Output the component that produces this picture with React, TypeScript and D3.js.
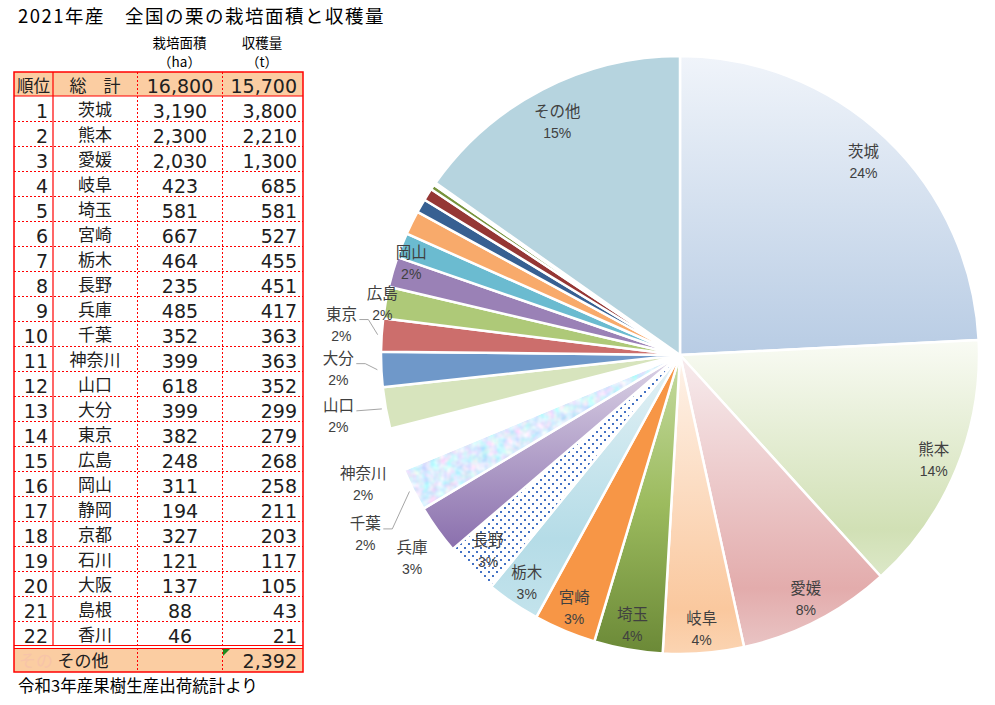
import React from 'react';
import * as d3 from 'd3';

// ---- data ----
const ranks = [1, 2, 3, 4, 5, 6, 7, 8, 9, 10, 11, 12, 13, 14, 15, 16, 17, 18, 19, 20, 21, 22];
const prefectures = ['茨城', '熊本', '愛媛', '岐阜', '埼玉', '宮崎', '栃木', '長野', '兵庫', '千葉', '神奈川', '山口', '大分', '東京', '広島', '岡山', '静岡', '京都', '石川', '大阪', '島根', '香川'];
const areaHa = [3190, 2300, 2030, 423, 581, 667, 464, 235, 485, 352, 399, 618, 399, 382, 248, 311, 194, 327, 121, 137, 88, 46];
const harvestT = [3800, 2210, 1300, 685, 581, 527, 455, 451, 417, 363, 363, 352, 299, 279, 268, 258, 211, 203, 117, 105, 43, 21];
const otherName = 'その他';
const otherHarvest = 2392;
const totalArea = 16800;
const totalHarvest = 15700;
const titleText = '2021年産　全国の栗の栽培面積と収穫量';
const sourceText = '令和3年産果樹生産出荷統計より';

// ---- styles ----
const sliceFill: Record<string, string> = {
  茨城: 'url(#gIbaraki)', 熊本: 'url(#gKumamoto)', 愛媛: 'url(#gEhime)', 岐阜: 'url(#gGifu)',
  埼玉: 'url(#gSaitama)', 宮崎: '#F79646', 栃木: 'url(#gTochigi)', 長野: 'url(#pDots)',
  兵庫: 'url(#gHyogo)', 千葉: 'none', 神奈川: '#FFFFFF', 山口: '#D7E4BD', 大分: '#6F98C9',
  東京: '#CC6E6C', 広島: '#AEC978', 岡山: '#9A81B6', 静岡: '#6BBBD0', 京都: '#F8AA6B',
  石川: '#376092', 大阪: '#953735', 島根: '#77933C', 香川: '#C6BAD8', その他: '#B6D4DF',
};
const insideLabels = ['茨城', '熊本', '愛媛', '岐阜', '埼玉', '宮崎', '栃木', '長野'];
// outside label placement: [radius, angle offset in degrees]
const outsideLabels: Record<string, [number, number]> = {
  兵庫: [336, -1.4], 千葉: [362, -2.85], 神奈川: [342, -3.65], 山口: [347, 0.15],
  大分: [342, 0.5], 東京: [340, 1.3], 広島: [302, -0.4], 岡山: [284, 2.7], その他: [263, -0.4],
};
const leaderLabels = ['東京', '大分', '山口', '千葉'];

const JP = '"Noto Sans CJK JP", "Noto Sans", sans-serif';
const NUM = '"DejaVu Sans", sans-serif';
const PCT = '"Liberation Sans", Arial, sans-serif';
const fmt = d3.format(',');

export default function App() {
  const W = 995, H = 705;
  const cx = 680, cy = 355, R = 299;
  const pieNames = [...prefectures, otherName];
  const pieValues = [...harvestT, otherHarvest];
  const pieData = pieNames.map((name, i) => ({ name, value: pieValues[i] }));
  const arcs = d3.pie<any>().value((d: any) => d.value).sort(null)(pieData);
  const arcGen = d3.arc<any>().innerRadius(0).outerRadius(R);
  const sum = d3.sum(pieValues);
  const pt = (a: number, r: number) => [Math.sin(a) * r, -Math.cos(a) * r];
  const chibaArc = arcs.find((a: any) => a.data.name === '千葉');

  // table geometry
  const colX = [14, 53, 137, 222, 303];
  const headTop = 72, rowTop0 = 96, rowH = 25;
  const rowsBottom = rowTop0 + rowH * prefectures.length; // 646
  const otherTop = rowsBottom + 2, otherBottom = otherTop + 24;
  const red = '#FF0000';
  const peach = '#FBCDA2';
  const ink = '#202020';

  const labels: any[] = [];
  arcs.forEach((a: any) => {
    const name = a.data.name;
    const mid = (a.startAngle + a.endAngle) / 2;
    const pct = Math.round((a.data.value / sum) * 100) + '%';
    let lx: number, ly: number;
    if (insideLabels.includes(name)) {
      const r = name === '茨城' ? R * 0.89 : R * 0.918;
      [lx, ly] = pt(mid, r);
    } else if (outsideLabels[name]) {
      const [r, off] = outsideLabels[name];
      [lx, ly] = pt(mid + (off * Math.PI) / 180, r);
    } else return;
    labels.push({ name, pct, lx, ly, mid });
  });

  return (
    <svg width={W} height={H} style={{ position: 'absolute', left: 0, top: 0, background: '#fff' }}>
      <defs>
        <linearGradient id="gIbaraki" x1="0" y1="0" x2="0" y2="1">
          <stop offset="0" stopColor="#F0F4FA" />
          <stop offset="1" stopColor="#B8CCE4" />
        </linearGradient>
        <linearGradient id="gKumamoto" x1="0" y1="0" x2="0" y2="1">
          <stop offset="0" stopColor="#F9FBF4" />
          <stop offset="0.8" stopColor="#D1E0B5" />
          <stop offset="1" stopColor="#DCE8C8" />
        </linearGradient>
        <linearGradient id="gEhime" x1="0" y1="0" x2="0" y2="1">
          <stop offset="0" stopColor="#F7ECEE" />
          <stop offset="0.8" stopColor="#E3ACAC" />
          <stop offset="1" stopColor="#E9C4C4" />
        </linearGradient>
        <linearGradient id="gGifu" x1="0" y1="0" x2="0" y2="1">
          <stop offset="0" stopColor="#FEF3EA" />
          <stop offset="0.85" stopColor="#FAC89E" />
          <stop offset="1" stopColor="#FBD4B2" />
        </linearGradient>
        <linearGradient id="gSaitama" x1="0" y1="0" x2="0" y2="1">
          <stop offset="0" stopColor="#C6DCA2" />
          <stop offset="0.5" stopColor="#9CBB5E" />
          <stop offset="1" stopColor="#6B8937" />
        </linearGradient>
        <linearGradient id="gTochigi" x1="0" y1="0" x2="0" y2="1">
          <stop offset="0" stopColor="#E4F2F6" />
          <stop offset="0.7" stopColor="#B5DCE7" />
          <stop offset="1" stopColor="#C3E3EC" />
        </linearGradient>
        <linearGradient id="gHyogo" x1="0" y1="0" x2="0" y2="1">
          <stop offset="0" stopColor="#DDD5E7" />
          <stop offset="1" stopColor="#8A6FAD" />
        </linearGradient>
        <pattern id="pDots" width="8" height="8" patternUnits="userSpaceOnUse">
          <rect width="8" height="8" fill="#FFFFFF" />
          <rect x="0" y="0" width="2" height="2" fill="#4472C4" />
          <rect x="4" y="4" width="2" height="2" fill="#4472C4" />
        </pattern>
        <filter id="fNoise" x="0" y="0" width="1" height="1">
          <feTurbulence type="fractalNoise" baseFrequency="0.12" numOctaves="2" seed="3" />
          <feColorMatrix type="matrix" values="0.8 0 0 0 0.32  0 0.5 0 0 0.6  0 0 0.2 0 0.88  0 0 0 0 1" />
        </filter>
        <clipPath id="cChiba">
          <path d={arcGen(chibaArc) || ''} />
        </clipPath>
      </defs>

      {/* title */}
      <text x={18} y={23} fontFamily={JP} fontSize={18.5} letterSpacing={1.5} fill="#000">{titleText}</text>

      {/* table column headers */}
      <g fontFamily={JP} fontSize={13.5} fill="#000" textAnchor="middle">
        <text x={179.5} y={48}>栽培面積</text>
        <text x={179.5} y={67}>（ha）</text>
        <text x={262} y={48}>収穫量</text>
        <text x={262} y={67}>（t）</text>
      </g>

      {/* table fills */}
      <rect x={colX[0]} y={headTop} width={colX[4] - colX[0]} height={rowTop0 - headTop} fill={peach} />
      <rect x={colX[0]} y={otherTop} width={colX[4] - colX[0]} height={otherBottom - otherTop} fill={peach} />

      {/* table header text */}
      <text x={33.5} y={92} fontFamily={JP} fontSize={16.5} textAnchor="middle" fill={ink}>順位</text>
      <text x={95} y={92} fontFamily={JP} fontSize={17} textAnchor="middle" fill={ink}>総　計</text>
      <text x={180} y={93} fontFamily={NUM} fontSize={19} textAnchor="middle" fill={ink}>{fmt(totalArea)}</text>
      <text x={297} y={93} fontFamily={NUM} fontSize={19} textAnchor="end" fill={ink}>{fmt(totalHarvest)}</text>

      {/* table rows */}
      {prefectures.map((p, i) => {
        const top = rowTop0 + rowH * i;
        return (
          <g key={p}>
            <text x={48} y={top + 21.5} fontFamily={NUM} fontSize={19} textAnchor="end" fill={ink}>{ranks[i]}</text>
            <text x={95} y={top + 20} fontFamily={JP} fontSize={17} textAnchor="middle" fill={ink}>{p}</text>
            <text x={180} y={top + 21.5} fontFamily={NUM} fontSize={19} textAnchor="middle" fill={ink}>{fmt(areaHa[i])}</text>
            <text x={297} y={top + 21.5} fontFamily={NUM} fontSize={19} textAnchor="end" fill={ink}>{fmt(harvestT[i])}</text>
            {i < prefectures.length - 1 && (
              <line x1={colX[0]} x2={colX[4]} y1={top + rowH + 0.5} y2={top + rowH + 0.5} stroke={red} strokeWidth={1} strokeDasharray="2,2" />
            )}
          </g>
        );
      })}

      {/* その他 row */}
      <text x={19} y={otherTop + 19} fontFamily={JP} fontSize={17} fill="#F7C4A8">その</text>
      <text x={83} y={otherTop + 19} fontFamily={JP} fontSize={17} textAnchor="middle" fill={ink}>{otherName}</text>
      <text x={297} y={otherTop + 19.5} fontFamily={NUM} fontSize={19} textAnchor="end" fill={ink}>{fmt(otherHarvest)}</text>
      <path d={`M${colX[3] + 1},${otherTop + 1}h7l-7,7z`} fill="#1F8A1F" />

      {/* table lines */}
      <line x1={colX[1]} x2={colX[1]} y1={headTop} y2={rowsBottom} stroke={red} strokeWidth={1.2} />
      {[colX[2], colX[3]].map((x) => (
        <line key={x} x1={x + 0.5} x2={x + 0.5} y1={headTop} y2={otherBottom} stroke={red} strokeWidth={1} strokeDasharray="2,2" />
      ))}
      <line x1={colX[0]} x2={colX[4]} y1={rowTop0} y2={rowTop0} stroke={red} strokeWidth={1.2} />
      <line x1={colX[0]} x2={colX[4]} y1={rowsBottom - 0.5} y2={rowsBottom - 0.5} stroke={red} strokeWidth={1} />
      <line x1={colX[0]} x2={colX[4]} y1={otherTop + 0.5} y2={otherTop + 0.5} stroke={red} strokeWidth={1} />
      <rect x={colX[0]} y={headTop} width={colX[4] - colX[0]} height={otherBottom - headTop} fill="none" stroke={red} strokeWidth={1.5} />

      {/* source */}
      <text x={18} y={692} fontFamily={JP} fontSize={16.5} fill="#000">{sourceText}</text>

      {/* pie */}
      <g transform={`translate(${cx},${cy})`}>
        {arcs.map((a: any) => (
          a.data.name === '千葉' ? (
            <g key={a.data.name}>
              <g clipPath="url(#cChiba)">
                <rect x={-R} y={-R} width={2 * R} height={2 * R} filter="url(#fNoise)" />
              </g>
              <path d={arcGen(a) || ''} fill="none" stroke="#fff" strokeWidth={2.5} strokeLinejoin="round" />
            </g>
          ) : (
            <path key={a.data.name} d={arcGen(a) || ''} fill={sliceFill[a.data.name]} stroke="#fff" strokeWidth={2.5} strokeLinejoin="round" />
          )
        ))}

        {/* leader lines */}
        {labels.filter((l) => leaderLabels.includes(l.name)).map((l) => {
          const [ex, ey] = pt(l.mid, R + 4);
          const sx = l.lx + 18, sy = l.ly - 5;
          const bx = l.name === '山口' ? sx : l.lx + 27;
          return (
            <polyline key={'ll' + l.name} points={`${sx},${sy} ${bx},${sy} ${ex},${ey}`} fill="none" stroke="#A6A6A6" strokeWidth={1} />
          );
        })}

        {/* labels */}
        {labels.map((l) => (
          <g key={'lb' + l.name} fill="#404040" textAnchor="middle">
            <text x={l.lx} y={l.ly - 5} fontFamily={JP} fontSize={15.5}>{l.name}</text>
            <text x={l.lx} y={l.ly + 16} fontFamily={PCT} fontSize={14}>{l.pct}</text>
          </g>
        ))}
      </g>
    </svg>
  );
}
